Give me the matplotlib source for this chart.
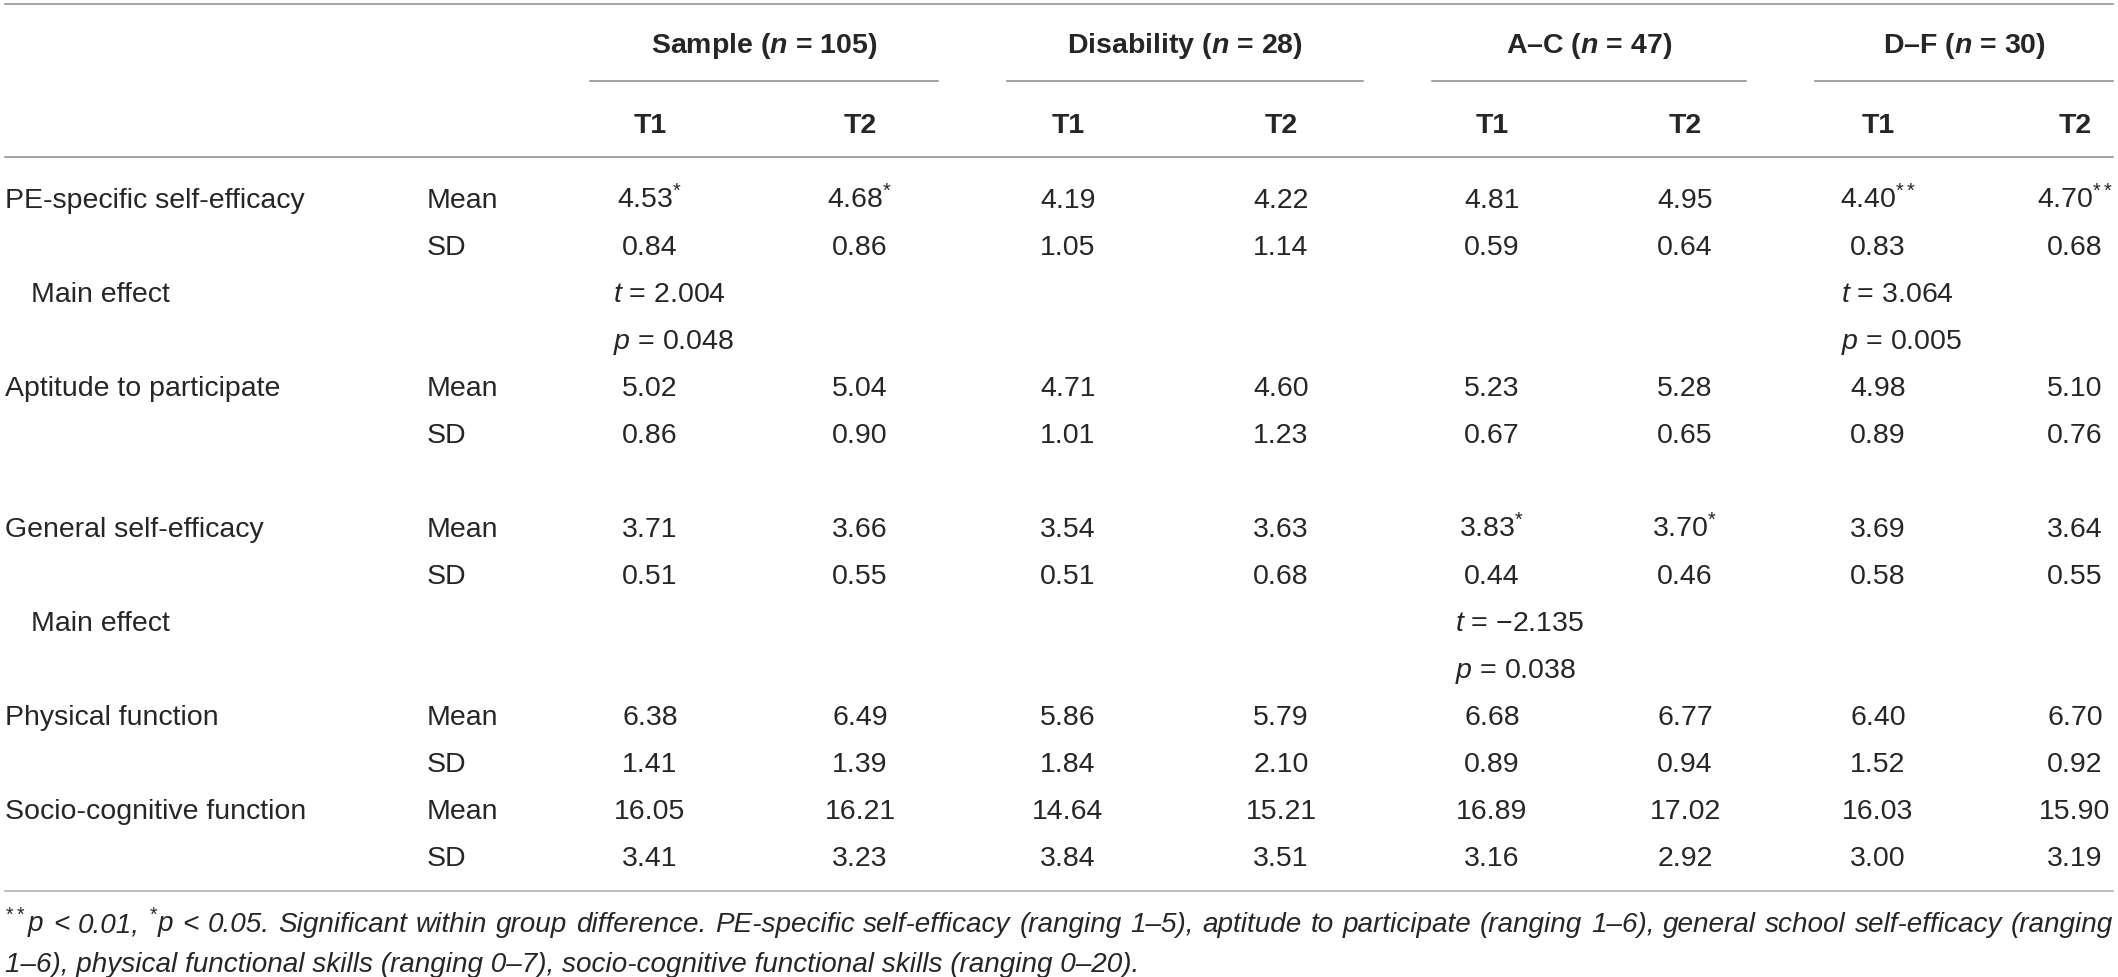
import matplotlib
matplotlib.use('Agg')
import matplotlib.pyplot as plt

# Fonts: plain text in Liberation Sans, math bits (italic n, t, p and star superscripts) too
plt.rcParams['font.family'] = ['Liberation Sans', 'DejaVu Sans']
plt.rcParams['mathtext.fontset'] = 'custom'
plt.rcParams['mathtext.rm'] = 'Liberation Sans'
plt.rcParams['mathtext.it'] = 'Liberation Sans:italic'
plt.rcParams['mathtext.bf'] = 'Liberation Sans:bold'
plt.rcParams['mathtext.bfit'] = 'Liberation Sans:italic:bold'

# Table data
groups = ['Sample', 'Disability', 'A–C', 'D–F']
group_n = [105, 28, 47, 30]
time_points = ['T1', 'T2']
variables = ['PE-specific self-efficacy', 'Aptitude to participate', 'General self-efficacy',
             'Physical function', 'Socio-cognitive function']

# values in order Sample T1, T2, Disability T1, T2, A–C T1, T2, D–F T1, T2
mean_pe = [4.53, 4.68, 4.19, 4.22, 4.81, 4.95, 4.40, 4.70]
sd_pe = [0.84, 0.86, 1.05, 1.14, 0.59, 0.64, 0.83, 0.68]
mean_apt = [5.02, 5.04, 4.71, 4.60, 5.23, 5.28, 4.98, 5.10]
sd_apt = [0.86, 0.90, 1.01, 1.23, 0.67, 0.65, 0.89, 0.76]
mean_gen = [3.71, 3.66, 3.54, 3.63, 3.83, 3.70, 3.69, 3.64]
sd_gen = [0.51, 0.55, 0.51, 0.68, 0.44, 0.46, 0.58, 0.55]
mean_phys = [6.38, 6.49, 5.86, 5.79, 6.68, 6.77, 6.40, 6.70]
sd_phys = [1.41, 1.39, 1.84, 2.10, 0.89, 0.94, 1.52, 0.92]
mean_soc = [16.05, 16.21, 14.64, 15.21, 16.89, 17.02, 16.03, 15.90]
sd_soc = [3.41, 3.23, 3.84, 3.51, 3.16, 2.92, 3.00, 3.19]
stars_pe = ['*', '*', '', '', '', '', '**', '**']
stars_gen = ['', '', '', '', '*', '*', '', '']
no_stars = [''] * 8

all_means = [mean_pe, mean_apt, mean_gen, mean_phys, mean_soc]
all_sds = [sd_pe, sd_apt, sd_gen, sd_phys, sd_soc]
all_stars = [stars_pe, no_stars, stars_gen, no_stars, no_stars]

# main effects: variable index, group index, t, p
effect_var = [0, 0, 2]
effect_group = [3 * 0, 3, 2]
effect_t = [2.004, 3.064, -2.135]
effect_p = [0.048, 0.005, 0.038]

footnote_1 = ('$^{**}$p < 0.01, $^{*}$p < 0.05. Significant within group difference. '
              'PE-specific self-efficacy (ranging 1–5), aptitude to participate (ranging 1–6), '
              'general school self-efficacy (ranging')
footnote_2 = ('1–6), physical functional skills (ranging 0–7), '
              'socio-cognitive functional skills (ranging 0–20).')

# Layout (pixels)
W, H = 2118, 978
fs = 20.5
ink = '#262626'
rule = '#8a8a8a'
col_x = [650, 860, 1068, 1281, 1492, 1685, 1878, 2075]
group_span = [(590, 938), (1007, 1363), (1432, 1746), (1815, 2113)]
blank_after = [0, 1, 0, 0, 0]
y0, pitch = 198, 47.0
cap = 10

fig = plt.figure(figsize=(W / 100, H / 100), dpi=100)
ax = fig.add_axes([0, 0, 1, 1])
ax.set_xlim(0, W)
ax.set_ylim(H, 0)
ax.axis('off')

# rules
lw = 1.1
ax.plot([5, 2113], [5, 5], color=rule, lw=lw)
ax.plot([5, 2113], [158, 158], color=rule, lw=lw)
ax.plot([5, 2113], [892, 892], color='#a8a8a8', lw=lw)
for (a, b) in group_span:
    ax.plot([a, b], [82, 82], color=rule, lw=lw)

# header
for g in range(len(groups)):
    a, b = group_span[g]
    ax.text((a + b) / 2, 43 + cap, groups[g] + r' ($\mathbfit{n}$ = ' + str(group_n[g]) + ')',
            ha='center', va='baseline', fontsize=fs, fontweight='bold', color=ink)
    for k in range(2):
        ax.text(col_x[2 * g + k], 123 + cap, time_points[k], ha='center', va='baseline',
                fontsize=fs, fontweight='bold', color=ink)

# body
slot = 0
for i in range(len(variables)):
    y_mean = y0 + slot * pitch
    y_sd = y_mean + pitch
    ax.text(5, y_mean + cap, variables[i], ha='left', va='baseline', fontsize=fs, color=ink)
    ax.text(427, y_mean + cap, 'Mean', ha='left', va='baseline', fontsize=fs, color=ink)
    ax.text(427, y_sd + cap, 'SD', ha='left', va='baseline', fontsize=fs, color=ink)
    for c in range(8):
        s = '{:.2f}'.format(all_means[i][c])
        if all_stars[i][c]:
            s += '$^{' + all_stars[i][c] + '}$'
        ax.text(col_x[c], y_mean + cap, s, ha='center', va='baseline', fontsize=fs, color=ink)
        ax.text(col_x[c], y_sd + cap, '{:.2f}'.format(all_sds[i][c]), ha='center',
                va='baseline', fontsize=fs, color=ink)
    slot += 2
    if i in effect_var:
        y_t = y0 + slot * pitch
        ax.text(31, y_t + cap, 'Main effect', ha='left', va='baseline', fontsize=fs, color=ink)
        for e in range(len(effect_var)):
            if effect_var[e] != i:
                continue
            x = col_x[2 * effect_group[e]] - 37
            t_txt = '{:.3f}'.format(effect_t[e]).replace('-', '\u2212')
            ax.text(x, y_t + cap, '$t$ = ' + t_txt, ha='left', va='baseline',
                    fontsize=fs, color=ink)
            ax.text(x, y_t + pitch + cap, '$p$ = ' + '{:.3f}'.format(effect_p[e]),
                    ha='left', va='baseline', fontsize=fs, color=ink)
        slot += 2
    slot += blank_after[i]

# footnote, first line justified to full width
renderer = fig.canvas.get_renderer()
fn_fs = 19.5
probe = ax.text(0, 0, footnote_2, fontsize=fn_fs, style='italic')
w2 = probe.get_window_extent(renderer).width
probe.remove()
fn_fs = fn_fs * 1137 / w2

ax.text(5, 962 + cap, footnote_2, ha='left', va='baseline', fontsize=fn_fs,
        style='italic', color=ink)

words = footnote_1.split(' ')
items = []
total = 0
for wd in words:
    t = ax.text(0, 922 + cap, wd, ha='left', va='baseline', fontsize=fn_fs,
                style='italic', color=ink)
    w = t.get_window_extent(renderer).width
    items.append((t, w))
    total += w
gap = (2113 - 5 - total) / (len(words) - 1)
x = 5
for t, w in items:
    t.set_x(x)
    x += w + gap

fig.savefig('out.png', dpi=100)
